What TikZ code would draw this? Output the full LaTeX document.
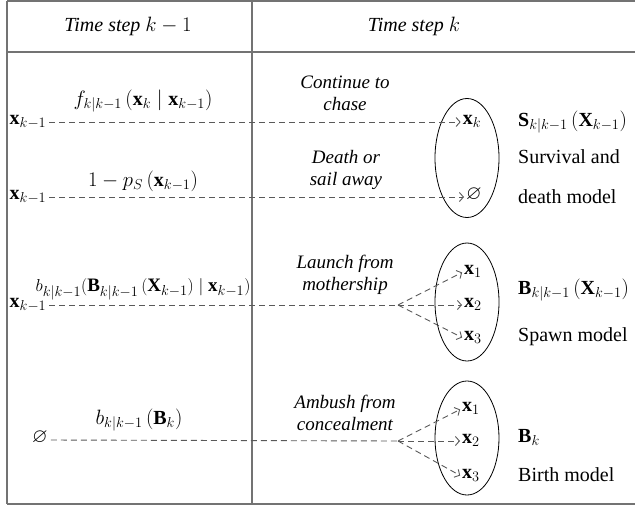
\documentclass[tikz,border=0pt]{standalone}
\usepackage{amssymb}
\usepackage{fontspec}
\setmainfont{Liberation Serif}
\usetikzlibrary{arrows.meta,shapes.geometric}
\begin{document}
\begin{tikzpicture}[x=1pt,y=-1pt,
  every node/.style={font=\fontsize{20}{22}\selectfont, inner sep=1pt},
  grid/.style={draw=black!55, line width=1.3pt},
  flow/.style={draw=black!65, dash pattern=on 6pt off 4pt, line width=0.9pt},
  tip/.style={-{Straight Barb[length=4pt,width=9pt,line width=0.9pt]}},
  pt/.style={text height=9pt, text depth=5pt, inner sep=1pt},
  note/.style={align=center, font=\fontsize{19}{22}\selectfont\itshape},
  oval/.style={draw, ellipse, line width=0.8pt, minimum width=64pt, inner sep=0pt},
  side/.style={anchor=west}]
\useasboundingbox (0,0) rectangle (635,507);
% table
\draw[grid] (7,1) -- (635,1);
\draw[grid] (7,52) -- (635,52);
\draw[grid] (7,504) -- (635,504);
\draw[grid] (7,1) -- (7,504);
\draw[grid] (252,1) -- (252,504);
\node (h1) at (128,26) {\textit{Time step} $k-1$};
\node (h2) at (414,26) {\textit{Time step} $k$};
% ellipses
\node[oval, minimum height=119pt] (e1) at (467,158) {};
\node[oval, minimum height=118pt] (e2) at (467,302) {};
\node[oval, minimum height=114pt] (e3) at (467,438) {};
% row 1
\node[pt] (a1) at (28,122) {$\mathbf{x}_{k-1}$};
\node[pt] (t1) at (472,122) {$\mathbf{x}_k$};
\node (l1) at (143,101) {$f_{k|k-1}\,(\mathbf{x}_k \mid \mathbf{x}_{k-1})$};
\node[note] (n1) at (345,93) {Continue to\\chase};
\draw[flow,tip,shorten <=2pt,shorten >=1pt] (a1.east) -- (t1.west);
% row 2
\node[pt] (a2) at (28,197) {$\mathbf{x}_{k-1}$};
\node[pt] (t2) at (474,197) {$\varnothing$};
\node (l2) at (143,181) {$1 - p_S\,(\mathbf{x}_{k-1})$};
\node[note] (n2) at (346,170) {Death or\\sail away};
\draw[flow,tip,shorten <=2pt,shorten >=1pt] (a2.east) -- (t2.west);
\node[side] (m1) at (517,122) {$\mathbf{S}_{k|k-1}\,(\mathbf{X}_{k-1})$};
\node[side] (m2) at (517,157) {Survival and};
\node[side] (m3) at (517,197) {death model};
% row 3
\node[pt] (a3) at (28,305) {$\mathbf{x}_{k-1}$};
\node[font=\fontsize{19}{22}\selectfont] (l3) at (143,289) {$b_{k|k-1}\big(\mathbf{B}_{k|k-1}\,(\mathbf{X}_{k-1}) \mid \mathbf{x}_{k-1}\big)$};
\node[note] (n3) at (345,275) {Launch from\\mothership};
\coordinate (f3) at (398,305);
\node[pt] (s1) at (473,272) {$\mathbf{x}_1$};
\node[pt] (s2) at (473,305) {$\mathbf{x}_2$};
\node[pt] (s3) at (473,338) {$\mathbf{x}_3$};
\draw[flow,shorten <=2pt] (a3.east) -- (f3);
\draw[flow,tip,shorten >=1pt] (f3) -- (s1.west);
\draw[flow,tip,shorten >=1pt] (f3) -- (s2.west);
\draw[flow,tip,shorten >=1pt] (f3) -- (s3.west);
\node[side] (m4) at (517,290) {$\mathbf{B}_{k|k-1}\,(\mathbf{X}_{k-1})$};
\node[side] (m5) at (517,337) {Spawn model};
% row 4
\node[pt] (a4) at (40,440) {$\varnothing$};
\node (l4) at (139,420) {$b_{k|k-1}\,(\mathbf{B}_k)$};
\node[note] (n4) at (345,413) {Ambush from\\concealment};
\coordinate (f4) at (398,441);
\node[pt] (b1) at (471,409) {$\mathbf{x}_1$};
\node[pt] (b2) at (471,441) {$\mathbf{x}_2$};
\node[pt] (b3) at (471,476) {$\mathbf{x}_3$};
\draw[flow,shorten <=2pt] (a4.east) -- (f4);
\draw[flow,tip,shorten >=1pt] (f4) -- (b1.west);
\draw[flow,tip,shorten >=1pt] (f4) -- (b2.west);
\draw[flow,tip,shorten >=1pt] (f4) -- (b3.west);
\node[side] (m6) at (517,437) {$\mathbf{B}_k$};
\node[side] (m7) at (517,475) {Birth model};
\end{tikzpicture}
\end{document}
